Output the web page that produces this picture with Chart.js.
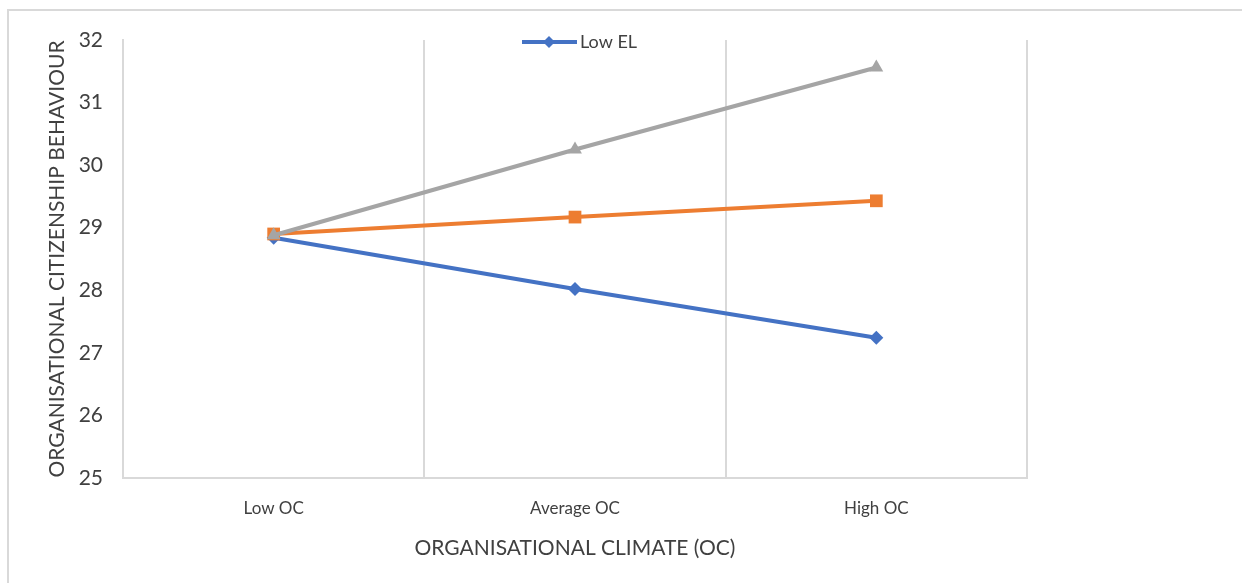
<!DOCTYPE html>
<html>
<head>
<meta charset="utf-8">
<script src="https://cdn.jsdelivr.net/npm/chart.js@4/dist/chart.umd.min.js"></script>
<style>
  html, body { margin: 0; padding: 0; background: #fff; }
  #wrap { width: 1242px; height: 583px; position: relative; }
</style>
</head>
<body>
<div id="wrap"><canvas id="ocbChart" width="1242" height="583"></canvas></div>
<script>
// Chart data
const categories = ['Low OC', 'Average OC', 'High OC'];
const lowEL = [28.84, 28.02, 27.24];
const averageEL = [28.90, 29.17, 29.43];
const highEL = [28.88, 30.25, 31.56];
const yTicks = [25, 26, 27, 28, 29, 30, 31, 32];

const gridColor = '#d9d9d9';
const textColor = '#404040';

// Plugin: outer frame and the single-entry legend
const framePlugin = {
    id: 'frame',
    beforeDraw(chart) {
        const ctx = chart.ctx;
        ctx.save();
        ctx.strokeStyle = '#d9d9d9';
        ctx.lineWidth = 2;
        ctx.beginPath();
        ctx.moveTo(1242, 10);
        ctx.lineTo(8, 10);
        ctx.lineTo(8, 583);
        ctx.stroke();
        ctx.restore();
    },
    afterDraw(chart) {
        const ctx = chart.ctx;
        const area = chart.chartArea;
        const cx = (area.left + area.right) / 2 - 53;
        const cy = area.top + 2;
        ctx.save();
        ctx.strokeStyle = '#4472C4';
        ctx.lineWidth = 4;
        ctx.beginPath();
        ctx.moveTo(cx, cy);
        ctx.lineTo(cx + 55, cy);
        ctx.stroke();
        ctx.fillStyle = '#4472C4';
        ctx.beginPath();
        ctx.moveTo(cx + 27, cy - 6);
        ctx.lineTo(cx + 33, cy);
        ctx.lineTo(cx + 27, cy + 6);
        ctx.lineTo(cx + 21, cy);
        ctx.closePath();
        ctx.fill();
        ctx.fillStyle = textColor;
        ctx.font = '18px Lato';
        ctx.textBaseline = 'middle';
        ctx.fillText('Low EL', cx + 58, cy);
        ctx.restore();
    }
};

const ctx = document.getElementById('ocbChart').getContext('2d');
new Chart(ctx, {
    type: 'line',
    data: {
        labels: categories,
        datasets: [
            {
                label: 'Low EL',
                data: lowEL,
                borderColor: '#4472C4',
                backgroundColor: '#4472C4',
                borderWidth: 4,
                pointStyle: 'rectRot',
                pointRadius: 7,
                pointBorderWidth: 0,
                order: 2
            },
            {
                label: 'Average EL',
                data: averageEL,
                borderColor: '#ED7D31',
                backgroundColor: '#ED7D31',
                borderWidth: 4,
                pointStyle: 'rect',
                pointRadius: 9,
                pointBorderWidth: 0,
                order: 1
            },
            {
                label: 'High EL',
                data: highEL,
                borderColor: '#A5A5A5',
                backgroundColor: '#A5A5A5',
                borderWidth: 4,
                pointStyle: 'triangle',
                pointRadius: 8,
                pointBorderWidth: 0,
                order: 0
            }
        ]
    },
    options: {
        responsive: false,
        animation: false,
        layout: { padding: { left: 45, right: 215, top: 40, bottom: 22 } },
        plugins: {
            legend: { display: false },
            tooltip: { enabled: false }
        },
        scales: {
            x: {
                offset: true,
                grid: { offset: true, color: gridColor, lineWidth: 2, drawTicks: false },
                border: { color: gridColor, width: 2 },
                ticks: { color: textColor, font: { family: 'Lato', size: 17 }, padding: 20 },
                title: {
                    display: true,
                    text: 'ORGANISATIONAL CLIMATE (OC)',
                    color: textColor,
                    font: { family: 'Lato', size: 21 },
                    padding: { top: 8, bottom: 0 }
                },
                afterFit(scale) { scale.height = 583 - 478 - 22; }
            },
            y: {
                min: 25,
                max: 32,
                afterBuildTicks(scale) { scale.ticks = yTicks.map(v => ({ value: v })); },
                grid: { display: true, drawOnChartArea: false, drawTicks: false },
                border: { color: gridColor, width: 2 },
                ticks: { color: textColor, font: { family: 'Lato', size: 21 }, padding: 20 },
                title: {
                    display: true,
                    text: 'ORGANISATIONAL CITIZENSHIP BEHAVIOUR',
                    color: textColor,
                    font: { family: 'Lato', size: 21 },
                    padding: { top: 0, bottom: 4 }
                },
                afterFit(scale) { scale.width = 123 - 45; }
            }
        }
    },
    plugins: [framePlugin]
});
</script>
</body>
</html>
